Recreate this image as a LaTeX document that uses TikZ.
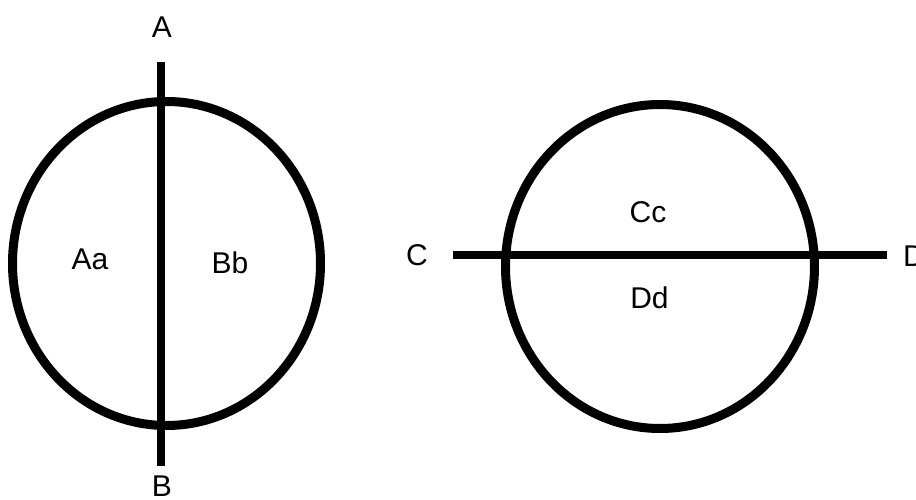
\documentclass[tikz,border=0pt]{standalone}
\usepackage{fontspec}
\setmainfont{Liberation Sans}
\begin{document}
\begin{tikzpicture}[x=1pt,y=-1pt,
  ring/.style={line width=9pt, draw=black},
  bar/.style={line width=8.5pt, draw=black},
  lbl/.style={font=\fontsize{30}{34}\selectfont, inner sep=0pt, anchor=center}]
\useasboundingbox[fill=white] (0,0) rectangle (916,500);
% left figure
\draw[ring] (166.5,263.5) ellipse [x radius=154pt, y radius=162pt];
\coordinate (a1) at (161,62);
\coordinate (b1) at (161,466);
\draw[bar] (a1) -- (b1);
\node[lbl] (A) at (162,27) {A};
\node[lbl] (B) at (162,486) {B};
\node[lbl] (Aa) at (90,259) {Aa};
\node[lbl] (Bb) at (230,263) {Bb};
% right figure
\draw[ring] (660,266.5) ellipse [x radius=154.5pt, y radius=162pt];
\coordinate (c1) at (453,255);
\coordinate (d1) at (887,255);
\draw[bar] (c1) -- (d1);
\node[lbl] (C) at (417,255) {C};
\node[lbl] (D) at (914,256) {D};
\node[lbl] (Cc) at (648,212) {Cc};
\node[lbl] (Dd) at (649.5,298) {Dd};
\end{tikzpicture}
\end{document}
